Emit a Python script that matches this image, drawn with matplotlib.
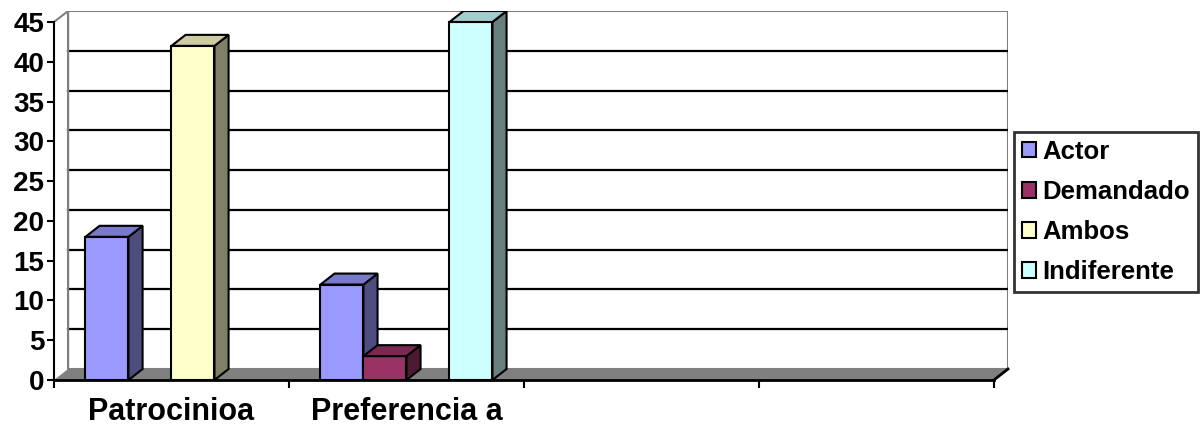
import matplotlib
matplotlib.use("Agg")
import matplotlib.pyplot as plt
from matplotlib.patches import Patch

plt.rcParams['font.family'] = ['Liberation Sans', 'DejaVu Sans']
plt.rcParams['font.weight'] = 'bold'

categories = ["Patrocinioa", "Preferencia a", "", ""]
series = ["Actor", "Demandado", "Ambos", "Indiferente"]
actor = [18, 12, 0, 0]
demandado = [0, 3, 0, 0]
ambos = [42, 0, 0, 0]
indiferente = [0, 45, 0, 0]
values = [actor, demandado, ambos, indiferente]

# front / side / top colours for each series
front = ["#9999FF", "#993366", "#FFFFCC", "#CCFFFF"]
side = ["#4D4D80", "#4D1A33", "#808066", "#668080"]
top = ["#7A7ACC", "#7A2952", "#CCCCA3", "#A3CCCC"]

ymax = 45
ncat = len(categories)
dx = 0.06     # depth offset in category units
dy = 1.38     # depth offset in value units
barw = 0.183
gap = (1 - barw * len(series)) / 2

fig = plt.figure(figsize=(12.04, 4.25), dpi=100)
ax = fig.add_axes([54 / 1204, 45 / 425, 954 / 1204, 369 / 425])
ax.set_xlim(0, ncat + dx)
ax.set_ylim(0, ymax + dy)

# back wall with gridlines
ax.fill([dx, ncat + dx, ncat + dx, dx], [dy, dy, ymax + dy, ymax + dy],
        facecolor="white", edgecolor="#808080", lw=1.5, zorder=0)
for v in range(5, ymax, 5):
    ax.plot([dx, ncat + dx], [v + dy, v + dy], color="black", lw=1.6, zorder=1)
# left wall top edge
ax.plot([0, dx, dx], [ymax, ymax + dy, dy], color="#808080", lw=1.5, zorder=1)
# floor
ax.fill([0, ncat, ncat + dx, dx], [0, 0, dy, dy],
        facecolor="#808080", edgecolor="none", zorder=1)
ax.plot([ncat, ncat + dx], [0, dy], color="black", lw=2, zorder=3,
        clip_on=False)

z = 4
for c in range(ncat):
    for s in range(len(series)):
        v = values[s][c]
        if v <= 0:
            continue
        x0 = c + gap + s * barw
        x1 = x0 + barw
        ax.bar(x0, v, width=barw, align="edge", color=front[s],
               edgecolor="black", lw=1.5, zorder=z)
        ax.fill([x1, x1 + dx, x1 + dx, x1], [0, dy, v + dy, v],
                facecolor=side[s], edgecolor="black", lw=1.5, zorder=z)
        ax.fill([x0, x1, x1 + dx, x0 + dx], [v, v, v + dy, v + dy],
                facecolor=top[s], edgecolor="black", lw=1.5, zorder=z)
        z += 1

for sp in ["top", "right"]:
    ax.spines[sp].set_visible(False)
ax.spines["left"].set_bounds(0, ymax)
ax.spines["left"].set_linewidth(1.5)
ax.spines["bottom"].set_bounds(0, ncat)
ax.spines["bottom"].set_linewidth(2)
ax.spines["left"].set_zorder(20)
ax.spines["bottom"].set_zorder(20)

ax.set_yticks(range(0, ymax + 1, 5))
ax.tick_params(axis="y", direction="out", length=5, width=1.5,
               labelsize=20, pad=2)
ax.set_xticks(range(ncat + 1), [""] * (ncat + 1))
ax.tick_params(axis="x", which="major", direction="out", length=6, width=1.5)
ax.set_xticks([c + 0.5 for c in range(ncat)], categories, minor=True)
ax.tick_params(axis="x", which="minor", length=0, labelsize=22, pad=12)
for lab in ax.get_xticklabels(minor=True) + ax.get_yticklabels():
    lab.set_fontweight("bold")

handles = [Patch(facecolor=front[s], edgecolor="black", lw=1.5)
           for s in range(len(series))]
leg = fig.legend(handles, series, loc="upper left",
                 bbox_to_anchor=(1014 / 1204, 1 - 132 / 425),
                 borderaxespad=0, fancybox=False, edgecolor="black",
                 prop={"size": 18.5, "weight": "bold"},
                 handlelength=0.55, handleheight=0.55, handletextpad=0.25,
                 labelspacing=0.63, borderpad=0.3)
leg.get_frame().set_linewidth(2)

fig.savefig("out.png", dpi=100)
